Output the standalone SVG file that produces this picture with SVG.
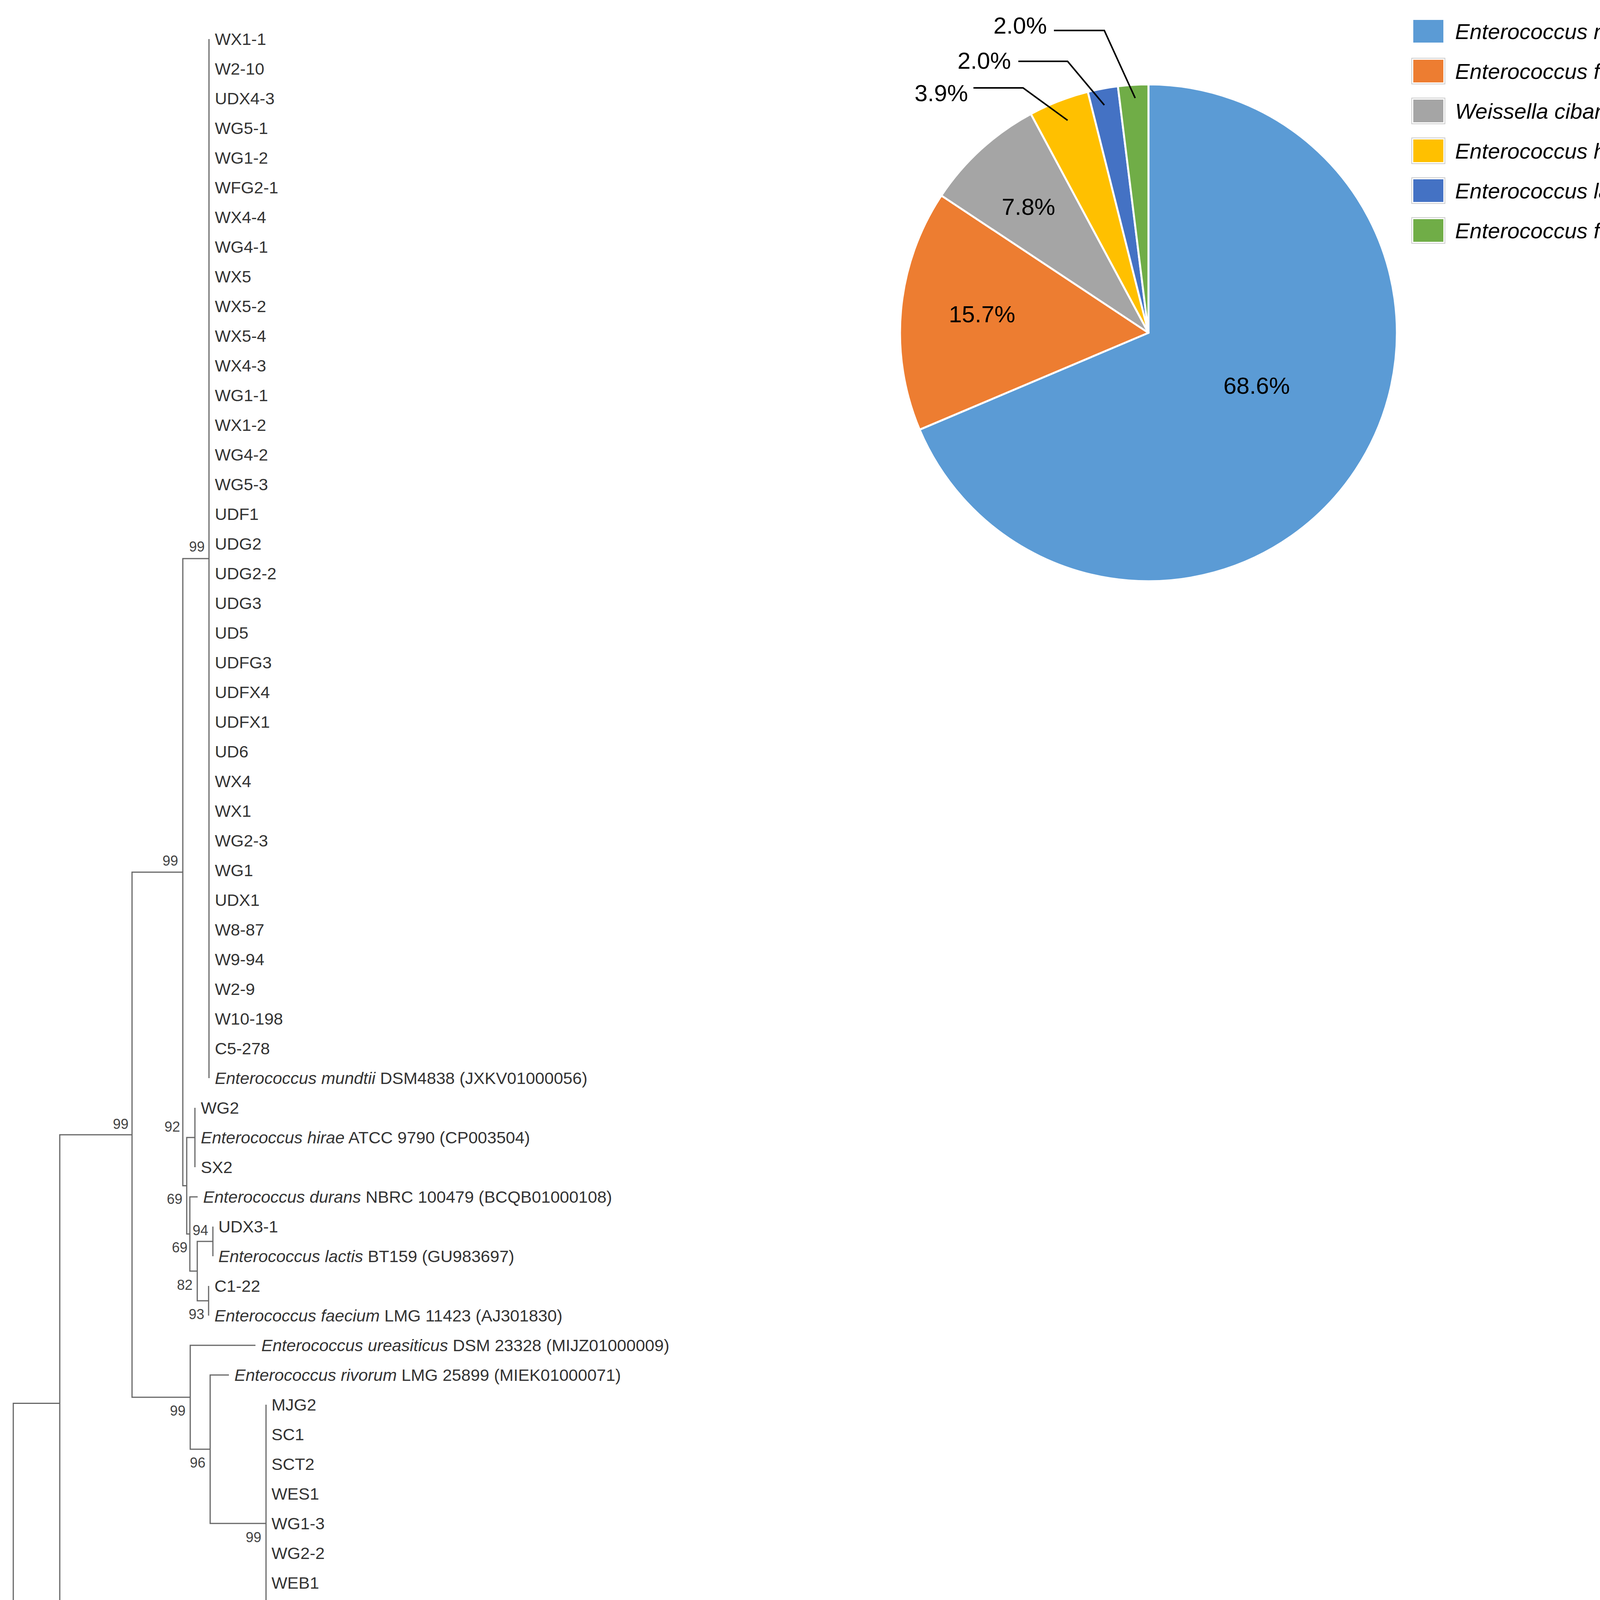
<svg xmlns="http://www.w3.org/2000/svg" width="4336" height="5408" viewBox="0 0 4336 5408">
<style>
.lf{font-family:"Liberation Sans",Arial,sans-serif;font-size:43px;fill:#333}
.i{font-style:italic}
.bs{font-family:"Liberation Sans",Arial,sans-serif;font-size:36px;fill:#444;text-anchor:end}
.br{fill:none;stroke:#666;stroke-width:3}
.pl{font-family:"Liberation Sans",Arial,sans-serif;font-size:60px;fill:#000}
.lg{font-family:"Liberation Sans",Arial,sans-serif;font-size:56px;font-style:italic;fill:#000}
.ld{fill:none;stroke:#000;stroke-width:4}
.sl{stroke:#fff;stroke-width:5;stroke-linejoin:round}
.cap{font-family:"Liberation Serif","Times New Roman",serif;font-size:76px;font-weight:bold;fill:#000;text-anchor:middle}
</style>
<rect width="4336" height="5408" fill="#fff"/>
<g id="connectors">
<path class="br" d="M535,100 V2760"/>
<path class="br" d="M499,2836 V2988"/>
<path class="br" d="M545,3140 V3216"/>
<path class="br" d="M534,3292 V3368"/>
<path class="br" d="M681,3596 V4204"/>
<path class="br" d="M1077,4736 V5040"/>
<path class="br" d="M535,1430 H468 V3035.5 H478"/>
<path class="br" d="M499,2912 H478 V3159 H486"/>
<path class="br" d="M506,3064 H486 V3254 H505"/>
<path class="br" d="M545,3178 H505 V3330 H534"/>
<path class="br" d="M468,2232.75 H338 V3577 H487"/>
<path class="br" d="M654,3444 H487 V3710 H538"/>
<path class="br" d="M586,3520 H538 V3900 H681"/>
<path class="br" d="M338,2905 H153 V4280 H1225"/>
<path class="br" d="M153,3592.4 H34 V4434.4 H222"/>
<path class="br" d="M993,4356 H222 V4512.75 H606"/>
<path class="br" d="M1225,4432 H606 V4593.5 H730"/>
<path class="br" d="M979,4508 H730 V4679 H807"/>
<path class="br" d="M1057,4584 H807 V4774 H1040"/>
<path class="br" d="M1082,4660 H1040 V4888 H1077"/>
</g>
<g id="bootstrap">
<text class="bs" x="524" y="1412">99</text>
<text class="bs" x="456" y="2216">99</text>
<text class="bs" x="329" y="2890">99</text>
<text class="bs" x="461" y="2897">92</text>
<text class="bs" x="467" y="3082">69</text>
<text class="bs" x="533" y="3162">94</text>
<text class="bs" x="480" y="3206">69</text>
<text class="bs" x="493" y="3302">82</text>
<text class="bs" x="523" y="3377">93</text>
<text class="bs" x="475" y="3624">99</text>
<text class="bs" x="526" y="3757">96</text>
<text class="bs" x="669" y="3948">99</text>
<text class="bs" x="210" y="4483">99</text>
<text class="bs" x="596" y="4560">99</text>
<text class="bs" x="717" y="4640">97</text>
<text class="bs" x="796" y="4726">91</text>
<text class="bs" x="1029" y="4822">99</text>
<text class="bs" x="1065" y="4936">94</text>
</g>
<g id="leaves">
<g id="leaf0"><text class="lf" x="550" y="115">WX1-1</text></g>
<g id="leaf1"><text class="lf" x="550" y="191">W2-10</text></g>
<g id="leaf2"><text class="lf" x="550" y="267">UDX4-3</text></g>
<g id="leaf3"><text class="lf" x="550" y="343">WG5-1</text></g>
<g id="leaf4"><text class="lf" x="550" y="419">WG1-2</text></g>
<g id="leaf5"><text class="lf" x="550" y="495">WFG2-1</text></g>
<g id="leaf6"><text class="lf" x="550" y="571">WX4-4</text></g>
<g id="leaf7"><text class="lf" x="550" y="647">WG4-1</text></g>
<g id="leaf8"><text class="lf" x="550" y="723">WX5</text></g>
<g id="leaf9"><text class="lf" x="550" y="799">WX5-2</text></g>
<g id="leaf10"><text class="lf" x="550" y="875">WX5-4</text></g>
<g id="leaf11"><text class="lf" x="550" y="951">WX4-3</text></g>
<g id="leaf12"><text class="lf" x="550" y="1027">WG1-1</text></g>
<g id="leaf13"><text class="lf" x="550" y="1103">WX1-2</text></g>
<g id="leaf14"><text class="lf" x="550" y="1179">WG4-2</text></g>
<g id="leaf15"><text class="lf" x="550" y="1255">WG5-3</text></g>
<g id="leaf16"><text class="lf" x="550" y="1331">UDF1</text></g>
<g id="leaf17"><text class="lf" x="550" y="1407">UDG2</text></g>
<g id="leaf18"><text class="lf" x="550" y="1483">UDG2-2</text></g>
<g id="leaf19"><text class="lf" x="550" y="1559">UDG3</text></g>
<g id="leaf20"><text class="lf" x="550" y="1635">UD5</text></g>
<g id="leaf21"><text class="lf" x="550" y="1711">UDFG3</text></g>
<g id="leaf22"><text class="lf" x="550" y="1787">UDFX4</text></g>
<g id="leaf23"><text class="lf" x="550" y="1863">UDFX1</text></g>
<g id="leaf24"><text class="lf" x="550" y="1939">UD6</text></g>
<g id="leaf25"><text class="lf" x="550" y="2015">WX4</text></g>
<g id="leaf26"><text class="lf" x="550" y="2091">WX1</text></g>
<g id="leaf27"><text class="lf" x="550" y="2167">WG2-3</text></g>
<g id="leaf28"><text class="lf" x="550" y="2243">WG1</text></g>
<g id="leaf29"><text class="lf" x="550" y="2319">UDX1</text></g>
<g id="leaf30"><text class="lf" x="550" y="2395">W8-87</text></g>
<g id="leaf31"><text class="lf" x="550" y="2471">W9-94</text></g>
<g id="leaf32"><text class="lf" x="550" y="2547">W2-9</text></g>
<g id="leaf33"><text class="lf" x="550" y="2623">W10-198</text></g>
<g id="leaf34"><text class="lf" x="550" y="2699">C5-278</text></g>
<g id="leaf35"><text class="lf" x="550" y="2775"><tspan class="i">Enterococcus mundtii</tspan> DSM4838 (JXKV01000056)</text></g>
<g id="leaf36"><text class="lf" x="514" y="2851">WG2</text></g>
<g id="leaf37"><text class="lf" x="514" y="2927"><tspan class="i">Enterococcus hirae</tspan> ATCC 9790 (CP003504)</text></g>
<g id="leaf38"><text class="lf" x="514" y="3003">SX2</text></g>
<g id="leaf39"><text class="lf" x="520" y="3079"><tspan class="i">Enterococcus durans</tspan> NBRC 100479 (BCQB01000108)</text></g>
<g id="leaf40"><text class="lf" x="559" y="3155">UDX3-1</text></g>
<g id="leaf41"><text class="lf" x="559" y="3231"><tspan class="i">Enterococcus lactis</tspan> BT159 (GU983697)</text></g>
<g id="leaf42"><text class="lf" x="549" y="3307">C1-22</text></g>
<g id="leaf43"><text class="lf" x="549" y="3383"><tspan class="i">Enterococcus faecium</tspan> LMG 11423 (AJ301830)</text></g>
<g id="leaf44"><text class="lf" x="669" y="3459"><tspan class="i">Enterococcus ureasiticus</tspan> DSM 23328 (MIJZ01000009)</text></g>
<g id="leaf45"><text class="lf" x="600" y="3535"><tspan class="i">Enterococcus rivorum</tspan> LMG 25899 (MIEK01000071)</text></g>
<g id="leaf46"><text class="lf" x="695" y="3611">MJG2</text></g>
<g id="leaf47"><text class="lf" x="695" y="3687">SC1</text></g>
<g id="leaf48"><text class="lf" x="695" y="3763">SCT2</text></g>
<g id="leaf49"><text class="lf" x="695" y="3839">WES1</text></g>
<g id="leaf50"><text class="lf" x="695" y="3915">WG1-3</text></g>
<g id="leaf51"><text class="lf" x="695" y="3991">WG2-2</text></g>
<g id="leaf52"><text class="lf" x="695" y="4067">WEB1</text></g>
<g id="leaf53"><text class="lf" x="695" y="4143">WEG2</text></g>
<g id="leaf54"><text class="lf" x="695" y="4219"><tspan class="i">Enterococcus faecalis</tspan> ATCC 19433 (ASDA01000001)</text></g>
<g id="leaf55"><text class="lf" x="1240" y="4295"><tspan class="i">Bacillus subtilis</tspan> NCIB 3610 (ABQL01000001)</text></g>
<g id="leaf56"><text class="lf" x="1008" y="4371"><tspan class="i">Lactiplantibacillus plantarum</tspan> ATCC 14917 (ACGZ01000098)</text></g>
<g id="leaf57"><text class="lf" x="1242" y="4447"><tspan class="i">Weissella ghanensis</tspan> LMG 24286 (AM882997)</text></g>
<g id="leaf58"><text class="lf" x="993" y="4523"><tspan class="i">Weissella kandleri</tspan> DSM 20593 (JQBP01000013)</text></g>
<g id="leaf59"><text class="lf" x="1074" y="4599"><tspan class="i">Weissella viridescens</tspan> NRIC 1536 (AB023236)</text></g>
<g id="leaf60"><text class="lf" x="1097" y="4675"><tspan class="i">Weissella confusa</tspan> JCM 1093 (AB023241)</text></g>
<g id="leaf61"><text class="lf" x="1091" y="4751">WX2</text></g>
<g id="leaf62"><text class="lf" x="1091" y="4827">WX3</text></g>
<g id="leaf63"><text class="lf" x="1091" y="4903">W3-15</text></g>
<g id="leaf64"><text class="lf" x="1091" y="4979">W2-12</text></g>
<g id="leaf65"><text class="lf" x="1091" y="5055"><tspan class="i">Weissella cibaria</tspan> JCM 12495 (LC096236)</text></g>
</g>
<g id="scalebar">
<path class="br" d="M184,5148 H324 M184,5134 V5162 M324,5134 V5162"/>
<text class="bs" x="254" y="5198" style="text-anchor:middle">0.01</text>
</g>
<g id="pie">
<path class="sl" fill="#5B9BD5" d="M2940,852 L2940,216 A636,636 0 1 1 2354.3,1099.9 Z"/>
<path class="sl" fill="#ED7D31" d="M2940,852 L2354.3,1099.9 A636,636 0 0 1 2409.9,500.6 Z"/>
<path class="sl" fill="#A5A5A5" d="M2940,852 L2409.9,500.6 A636,636 0 0 1 2639.1,291.7 Z"/>
<path class="sl" fill="#FFC000" d="M2940,852 L2639.1,291.7 A636,636 0 0 1 2784.9,235.2 Z"/>
<path class="sl" fill="#4472C4" d="M2940,852 L2784.9,235.2 A636,636 0 0 1 2861.8,220.8 Z"/>
<path class="sl" fill="#70AD47" d="M2940,852 L2861.8,220.8 A636,636 0 0 1 2940,216 Z"/>
<text class="pl" x="3217" y="1008" text-anchor="middle">68.6%</text>
<text class="pl" x="2514" y="825" text-anchor="middle">15.7%</text>
<text class="pl" x="2633" y="550" text-anchor="middle">7.8%</text>
<text class="pl" x="2478" y="259" text-anchor="end">3.9%</text>
<text class="pl" x="2588" y="176" text-anchor="end">2.0%</text>
<text class="pl" x="2680" y="86" text-anchor="end">2.0%</text>
<path class="ld" d="M2492,225 H2619 L2733,308"/>
<path class="ld" d="M2607,157 H2733 L2827,269"/>
<path class="ld" d="M2698,78 H2827 L2906,251"/>
</g>
<g id="legend">
<g id="lg1"><rect x="3618" y="51" width="77" height="58" fill="#5B9BD5"/><text class="lg" x="3725" y="100">Enterococcus mundtii</text></g>
<g id="lg2"><rect x="3614" y="149" width="85" height="66" fill="#fff" stroke="#ccc" stroke-width="2"/><rect x="3618" y="153" width="77" height="58" fill="#ED7D31"/><text class="lg" x="3725" y="202">Enterococcus faecalis</text></g>
<g id="lg3"><rect x="3614" y="251" width="85" height="66" fill="#fff" stroke="#ccc" stroke-width="2"/><rect x="3618" y="255" width="77" height="58" fill="#A5A5A5"/><text class="lg" x="3725" y="304">Weissella cibaria</text></g>
<g id="lg4"><rect x="3614" y="353" width="85" height="66" fill="#fff" stroke="#ccc" stroke-width="2"/><rect x="3618" y="357" width="77" height="58" fill="#FFC000"/><text class="lg" x="3725" y="406">Enterococcus hirae</text></g>
<g id="lg5"><rect x="3614" y="455" width="85" height="66" fill="#fff" stroke="#ccc" stroke-width="2"/><rect x="3618" y="459" width="77" height="58" fill="#4472C4"/><text class="lg" x="3725" y="508">Enterococcus lactis</text></g>
<g id="lg6"><rect x="3614" y="557" width="85" height="66" fill="#fff" stroke="#ccc" stroke-width="2"/><rect x="3618" y="561" width="77" height="58" fill="#70AD47"/><text class="lg" x="3725" y="610">Enterococcus faecium</text></g>
</g>
<g id="captions">
<text class="cap" x="1068" y="5350">(a)</text>
<text class="cap" x="3260" y="5350">(b)</text>
</g>
</svg>
